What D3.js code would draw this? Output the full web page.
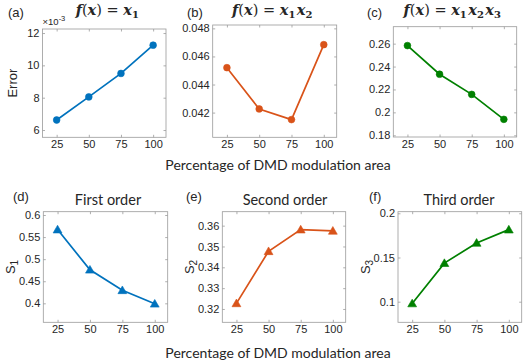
<!DOCTYPE html>
<html lang="en">
<head>
<meta charset="utf-8">
<title>DMD modulation area</title>
<script src="https://cdn.jsdelivr.net/npm/d3@7"></script>
<style>
  body { margin: 0; background: #fff; }
  text { fill: #262626; }
</style>
</head>
<body>
<script>
// data
var pct = [25, 50, 75, 100];
var errX1 = [6.62, 8.05, 9.5, 11.25];          // x 10^-3
var errX1X2 = [0.0452, 0.04226, 0.0415, 0.04684];
var errX1X2X3 = [0.2583, 0.2333, 0.2157, 0.1939];
var s1 = [0.567, 0.476, 0.4295, 0.399];
var s2 = [0.3227, 0.3477, 0.3581, 0.3575];
var s3 = [0.098, 0.1436, 0.1665, 0.1815];

var xTicks = [25, 50, 75, 100];
var yTicksA = [6, 8, 10, 12];
var yTicksB = [0.042, 0.044, 0.046, 0.048];
var yTicksC = [0.18, 0.2, 0.22, 0.24, 0.26];
var yTicksD = [0.4, 0.45, 0.5, 0.55, 0.6];
var yTicksE = [0.32, 0.33, 0.34, 0.35, 0.36];
var yTicksF = [0.1, 0.15, 0.2];

var blue = "#0072BD", orange = "#D95319", green = "#008000";

var w = 526, h = 364;
var svg = d3.select("body").append("svg").attr("width", w).attr("height", h);

var panels = [
  {id: "(a)", vals: errX1, ticks: yTicksA, ylim: [5.55, 12.25], color: blue, marker: "circle",
   box: [42.5, 166, 29, 137.3], ylabel: "Error", lab: [8, 17], title: [108, 15], math: 1, exp: true},
  {id: "(b)", vals: errX1X2, ticks: yTicksB, ylim: [0.04024, 0.04824], color: orange, marker: "circle",
   box: [212.7, 336.7, 25, 137.3], lab: [187, 17], title: [273, 15], math: 2},
  {id: "(c)", vals: errX1X2X3, ticks: yTicksC, ylim: [0.1785, 0.2748], color: green, marker: "circle",
   box: [393.3, 516.7, 26.7, 137], lab: [367, 17], title: [453, 15], math: 3},
  {id: "(d)", vals: s1, ticks: yTicksD, ylim: [0.357, 0.6075], color: blue, marker: "triangle",
   box: [43.3, 167.7, 211.7, 322.3], ylabel: "S", sub: "1", lab: [13, 201], title: [108, 205], name: "First order"},
  {id: "(e)", vals: s2, ticks: yTicksE, ylim: [0.3136, 0.3667], color: orange, marker: "triangle",
   box: [222.3, 345.7, 211.7, 322.3], ylabel: "S", sub: "2", lab: [186, 201], title: [285, 205], name: "Second order"},
  {id: "(f)", vals: s3, ticks: yTicksF, ylim: [0.0767, 0.2018], color: green, marker: "triangle",
   box: [398, 521.7, 211.7, 322.3], ylabel: "S", sub: "3", lab: [369, 201], title: [459, 205], name: "Third order"}
];

panels.forEach(function(p) {
  var x0 = p.box[0], x1 = p.box[1], y0 = p.box[2], y1 = p.box[3];
  var x = d3.scaleLinear().domain([14, 110]).range([x0, x1]);
  var y = d3.scaleLinear().domain(p.ylim).range([y1, y0]);
  var g = svg.append("g");

  // box
  g.append("rect").attr("x", x0).attr("y", y0).attr("width", x1 - x0).attr("height", y1 - y0)
    .attr("fill", "#fff").attr("stroke", "#9a9a9a").attr("stroke-width", 0.8);

  // axes (inward ticks on all four sides)
  var fmt = function(d) { return String(d); };
  var ax = [
    {a: d3.axisBottom(x).tickValues(xTicks).tickSize(-2.5).tickFormat(fmt), t: "translate(0," + y1 + ")"},
    {a: d3.axisTop(x).tickValues(xTicks).tickSize(-2.5).tickFormat(""), t: "translate(0," + y0 + ")"},
    {a: d3.axisLeft(y).tickValues(p.ticks).tickSize(-2.5).tickFormat(fmt), t: "translate(" + x0 + ",0)"},
    {a: d3.axisRight(y).tickValues(p.ticks).tickSize(-2.5).tickFormat(""), t: "translate(" + x1 + ",0)"}
  ];
  ax.forEach(function(o) {
    var s = g.append("g").attr("transform", o.t).call(o.a);
    s.select(".domain").remove();
    s.selectAll(".tick line").attr("stroke", "#9a9a9a").attr("stroke-width", 0.8);
    s.selectAll(".tick text").attr("font-family", "Liberation Sans, Arial, sans-serif")
      .attr("font-size", 11).attr("fill", "#262626");
  });

  // line
  var line = d3.line().x(function(d, i) { return x(pct[i]); }).y(function(d) { return y(d); });
  g.append("path").datum(p.vals).attr("d", line).attr("fill", "none")
    .attr("stroke", p.color).attr("stroke-width", 1.7);

  var sym = p.marker === "circle" ? d3.symbolCircle : d3.symbolTriangle;
  var size = p.marker === "circle" ? 36 : 34;
  g.selectAll(".mk").data(p.vals).enter().append("path")
    .attr("d", d3.symbol().type(sym).size(size))
    .attr("transform", function(d, i) { return "translate(" + x(pct[i]) + "," + (y(d) + (p.marker === "circle" ? 0 : 0.8)) + ")"; })
    .attr("fill", p.color).attr("stroke", p.color).attr("stroke-width", 0.6);

  // panel letter
  svg.append("text").attr("x", p.lab[0]).attr("y", p.lab[1])
    .attr("font-family", "Liberation Sans, Arial, sans-serif").attr("font-size", 13).text(p.id);

  // title
  if (p.math) {
    var t = svg.append("text").attr("x", p.title[0]).attr("y", p.title[1]).attr("text-anchor", "middle")
      .attr("font-family", "DejaVu Serif, serif").attr("font-size", 14.5).attr("fill", "#000");
    t.append("tspan").attr("font-weight", "bold").attr("font-style", "italic").text("f");
    t.append("tspan").text("(");
    t.append("tspan").attr("font-weight", "bold").attr("font-style", "italic").text("x");
    t.append("tspan").text(") = ");
    for (var k = 1; k <= p.math; k++) {
      t.append("tspan").attr("font-weight", "bold").attr("font-style", "italic").text("x");
      t.append("tspan").attr("font-weight", "bold").attr("font-size", 10).attr("dy", 3).text(k);
      t.append("tspan").attr("dy", -3).text("\u200a");
    }
  } else {
    svg.append("text").attr("x", p.title[0]).attr("y", p.title[1]).attr("text-anchor", "middle")
      .attr("font-family", "Lato, sans-serif").attr("font-size", 14.5).attr("fill", "#000").text(p.name);
  }

  // y label
  var yl = svg.append("text").attr("text-anchor", "middle")
    .attr("font-family", "Liberation Sans, Arial, sans-serif").attr("font-size", 13)
    .attr("transform", "translate(" + (p.sub ? x0 - 28 : x0 - 26) + "," + ((y0 + y1) / 2) + ") rotate(-90)");
  yl.append("tspan").text(p.ylabel);
  if (p.sub) yl.append("tspan").attr("font-size", 10).attr("dy", 3).text(p.sub);

  if (p.exp) {
    var e = svg.append("text").attr("x", x0).attr("y", y0 - 4)
      .attr("font-family", "Liberation Sans, Arial, sans-serif").attr("font-size", 9.5).attr("fill", "#555");
    e.append("tspan").text("\u00d710");
    e.append("tspan").attr("font-size", 7.5).attr("dy", -4).text("-3");
  }
});

// shared x labels
[165, 353].forEach(function(yy) {
  svg.append("text").attr("x", 278).attr("y", yy + 5).attr("text-anchor", "middle")
    .attr("font-family", "Lato, sans-serif").attr("font-size", 14).attr("fill", "#000")
    .text("Percentage of DMD modulation area");
});
</script>
</body>
</html>
